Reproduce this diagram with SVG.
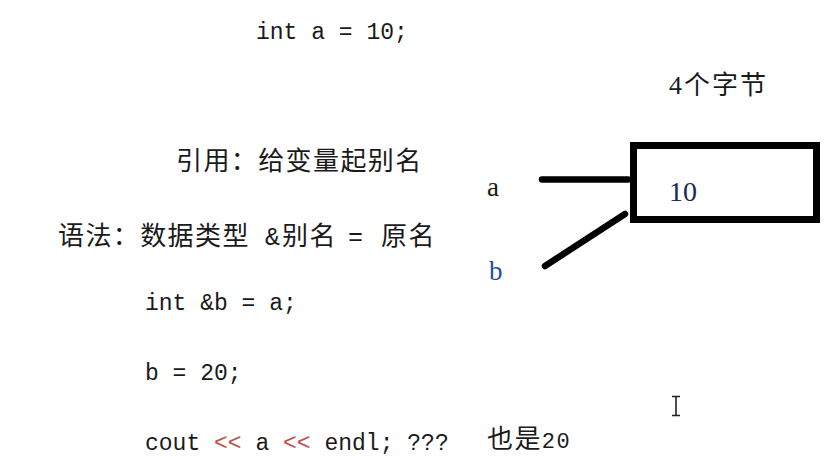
<svg xmlns="http://www.w3.org/2000/svg" width="829" height="475" viewBox="0 0 829 475">
<style>
.code{font-family:"Liberation Mono","Noto Sans CJK SC",monospace;font-size:23px;fill:#1a1a1a}
.cjk{font-family:"Noto Sans CJK SC","Liberation Serif",sans-serif;font-size:26px;fill:#1a1a1a;letter-spacing:1.4px}
.lbl{font-family:"Liberation Serif","Noto Sans CJK SC",serif;fill:#1a1a1a}
.op{fill:#c0504d}
.wire{stroke:#000;stroke-width:6.5;stroke-linecap:round;fill:none}
</style>
<rect width="829" height="475" fill="#ffffff"/>
<g id="code-decl"><text class="code" x="256" y="39">int a = 10;</text></g>
<g id="bytes-note"><text class="lbl" x="669" y="94" font-size="26" letter-spacing="2" font-family="'Liberation Serif','Noto Sans CJK SC',serif">4个字节</text></g>
<g id="definition"><text class="cjk" x="176" y="170">引用：给变量起别名</text></g>
<g id="syntax"><text class="cjk" y="245"><tspan x="58">语法：数据类型</tspan><tspan x="265" class="code" style="font-size:25px;fill:#1a1a1a">&amp;</tspan><tspan x="282">别名</tspan><tspan x="348" class="code" style="font-size:25px;fill:#1a1a1a">=</tspan><tspan x="381">原名</tspan></text></g>
<g id="code-ref"><text class="code" x="145" y="310">int &amp;b = a;</text></g>
<g id="code-assign"><text class="code" x="145" y="380">b = 20;</text></g>
<g id="code-cout"><text class="code" x="145" y="450" xml:space="preserve">cout <tspan class="op">&lt;&lt;</tspan> a <tspan class="op">&lt;&lt;</tspan> endl; ???</text><text class="cjk" x="487" y="448" letter-spacing="0">也是<tspan class="code" style="font-size:22px;fill:#1a1a1a">20</tspan></text></g>
<g id="label-a"><text class="lbl" x="487" y="196" font-size="27">a</text></g>
<g id="label-b"><text class="lbl" x="489" y="280" font-size="27" style="fill:#1f4f9f">b</text></g>
<g id="memory-box"><rect x="633.5" y="145.5" width="183" height="74" fill="#fff" stroke="#000" stroke-width="7"/><text class="lbl" x="669" y="201" font-size="28" style="fill:#1a2a50">10</text></g>
<g id="connectors"><line class="wire" x1="542" y1="179.5" x2="628" y2="179.5"/><line class="wire" x1="545" y1="266" x2="625" y2="214"/></g>
<g id="cursor"><path d="M672 396.5h8M672 415.5h8M676 396.5v19" stroke="#222" stroke-width="1.6" fill="none"/></g>
</svg>
